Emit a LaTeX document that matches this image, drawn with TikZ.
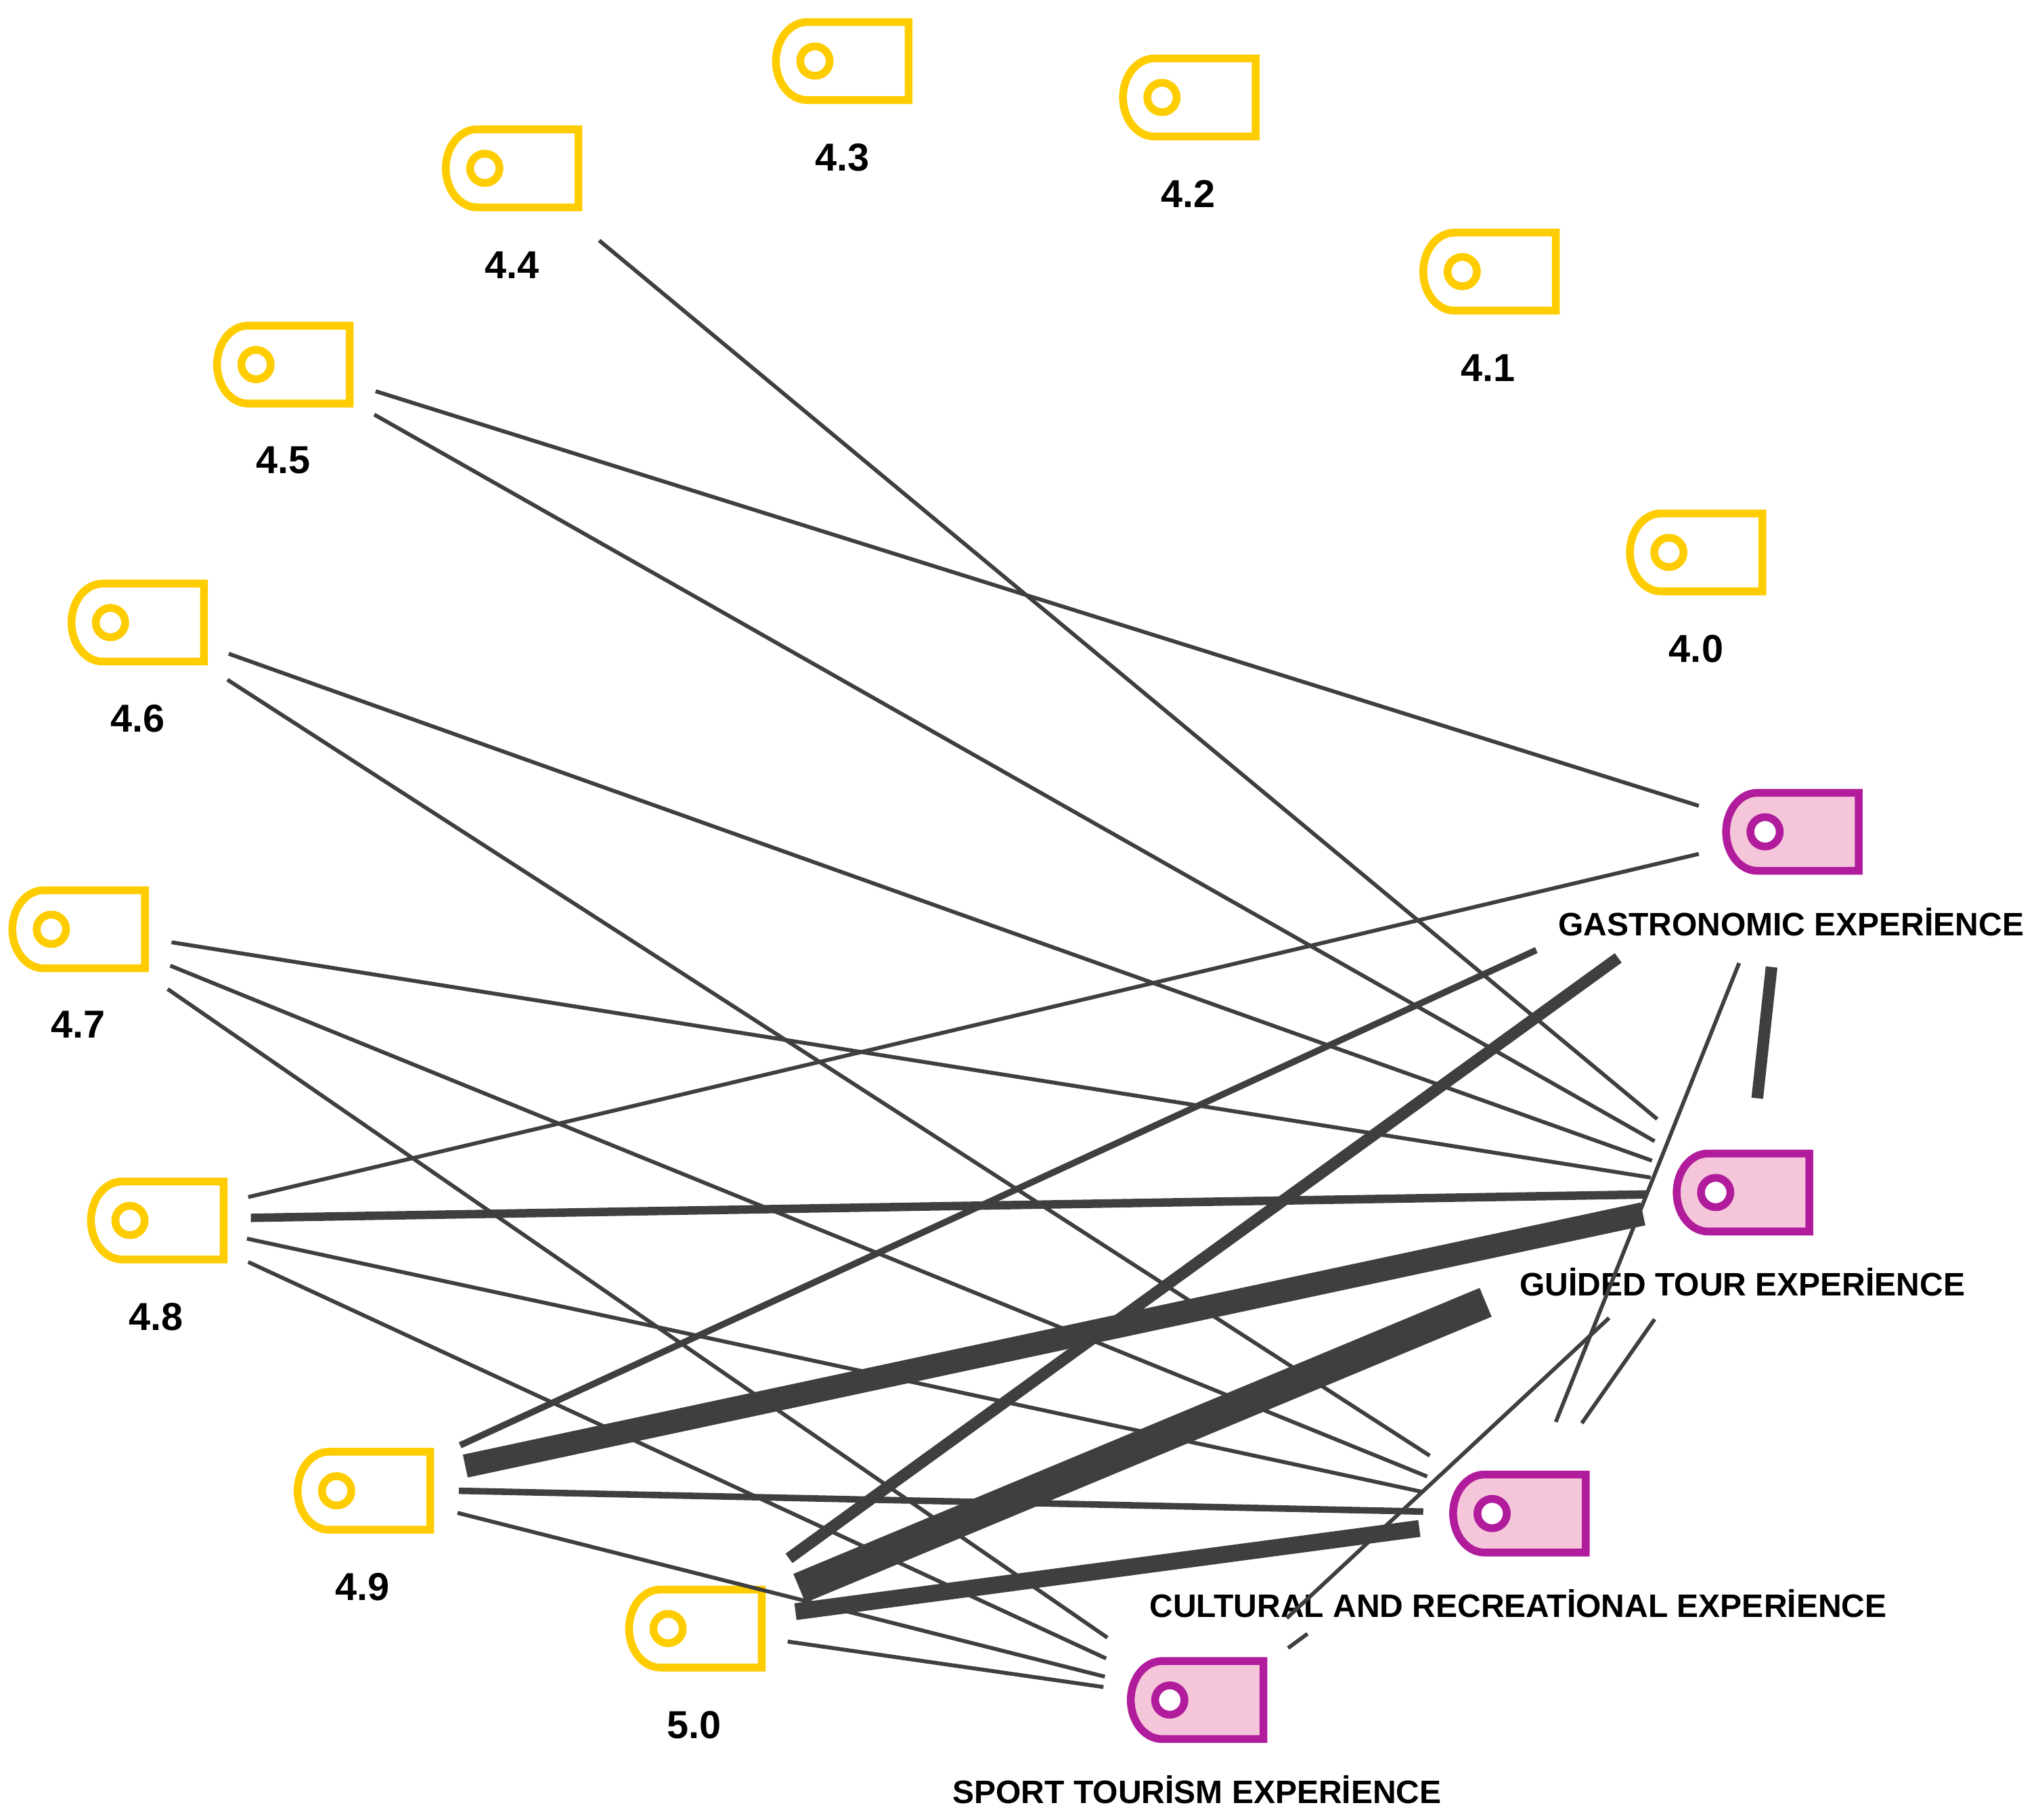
\documentclass[tikz,border=0pt]{standalone}
\usepackage{fontspec}
\setmainfont{Liberation Sans}
\definecolor{pinyellow}{HTML}{FFCC00}
\definecolor{pinmag}{HTML}{B01C9C}
\definecolor{pinfill}{HTML}{F5C6DA}
\definecolor{linkgrey}{HTML}{3F3F3F}
\tikzset{
  pinbox/.style={rectangle,minimum width=102pt,minimum height=60pt,inner sep=0pt,outer sep=0pt},
  pinline/.style={line width=6pt,line join=miter},
  yellowpin/.style={pinline,draw=pinyellow,fill=white},
  magentapin/.style={pinline,draw=pinmag,fill=pinfill},
  pindot/.style={circle,minimum size=22.6pt,inner sep=0pt,line width=6pt,fill=white},
  numlabel/.style={font=\fontsize{30}{30}\bfseries\selectfont,text=black,inner sep=0pt},
  explabel/.style={font=\fontsize{25}{25}\bfseries\selectfont,text=black,inner sep=0pt},
  link/.style={draw=linkgrey,line cap=butt},
  w3/.style={link,line width=3pt},
  w5/.style={link,line width=5pt},
  w6/.style={link,line width=6.5pt},
  w8/.style={link,line width=9pt},
  w12/.style={link,line width=13pt},
  w16/.style={link,line width=18pt},
  w21/.style={link,line width=24pt}
}
\newcommand{\pinnode}[5]{%
  \node[pinbox] (#1) at (#2,#3) {};
  \path[#4] (#1.north east) -- (#1.south east) -- ([xshift=24pt]#1.south west)
    arc[start angle=270,end angle=90,x radius=24pt,y radius=30pt] -- cycle;
  \node[pindot,draw=#5] (#1-dot) at ([xshift=-21pt]#1.center) {};
}
\begin{document}
\begin{tikzpicture}[x=1pt,y=-1pt]
\useasboundingbox (0,0) rectangle (1568,1400);
% value pins
\pinnode{n40}{1305}{425}{yellowpin}{pinyellow}
\pinnode{n41}{1146}{209}{yellowpin}{pinyellow}
\pinnode{n42}{915}{75}{yellowpin}{pinyellow}
\pinnode{n43}{648}{47}{yellowpin}{pinyellow}
\pinnode{n44}{394}{129.5}{yellowpin}{pinyellow}
\pinnode{n45}{218}{280.5}{yellowpin}{pinyellow}
\pinnode{n46}{106}{479}{yellowpin}{pinyellow}
\pinnode{n47}{60.5}{715}{yellowpin}{pinyellow}
\pinnode{n48}{121}{939}{yellowpin}{pinyellow}
\pinnode{n49}{280}{1147}{yellowpin}{pinyellow}
\pinnode{n50}{535}{1253}{yellowpin}{pinyellow}
% category pins
\pinnode{gas}{1379}{640}{magentapin}{pinmag}
\pinnode{gui}{1341}{917.5}{magentapin}{pinmag}
\pinnode{cul}{1169}{1164.5}{magentapin}{pinmag}
\pinnode{spo}{921}{1308}{magentapin}{pinmag}
% labels
\node[numlabel] (l40) at (1305,499) {4.0};
\node[numlabel] (l41) at (1145,283) {4.1};
\node[numlabel] (l42) at (914,149) {4.2};
\node[numlabel] (l43) at (648,121) {4.3};
\node[numlabel] (l44) at (394,204) {4.4};
\node[numlabel] (l45) at (218,354) {4.5};
\node[numlabel] (l46) at (106,553) {4.6};
\node[numlabel] (l47) at (60,788) {4.7};
\node[numlabel] (l48) at (120,1013) {4.8};
\node[numlabel] (l49) at (279,1221) {4.9};
\node[numlabel] (l50) at (534,1327) {5.0};
\node[explabel] (lgas) at (1378,709.5) {GASTRONOMIC EXPERİENCE};
\node[explabel] (lgui) at (1340.5,986.5) {GUİDED TOUR EXPERİENCE};
\node[explabel] (lcul) at (1168,1233.5) {CULTURAL AND RECREATİONAL EXPERİENCE};
\node[explabel] (lspo) at (921,1377) {SPORT TOURİSM EXPERİENCE};
% free ends of the links
\coordinate (a44) at (461,185);
\coordinate (a45g) at (289,301);
\coordinate (a45u) at (288,319);
\coordinate (a46u) at (176,503);
\coordinate (a46c) at (175,523);
\coordinate (a47u) at (132,725);
\coordinate (a47c) at (131,743);
\coordinate (a47s) at (129,761);
\coordinate (a48g) at (191,921);
\coordinate (a48u) at (193,937);
\coordinate (a48c) at (190,953);
\coordinate (a48s) at (191,971);
\coordinate (a49g) at (354,1112);
\coordinate (a49u) at (358,1128);
\coordinate (a49c) at (353,1147);
\coordinate (a49s) at (352,1164);
\coordinate (a50g) at (607,1199);
\coordinate (a50u) at (615,1222);
\coordinate (a50c) at (612,1240);
\coordinate (a50s) at (606,1263);
\coordinate (ggA) at (1307,620);
\coordinate (ggB) at (1307,657);
\coordinate (ggC) at (1182,731);
\coordinate (ggD) at (1245,737);
\coordinate (ggE) at (1338,741);
\coordinate (ggF) at (1363,744);
\coordinate (uuA) at (1275,861);
\coordinate (uuB) at (1273,878);
\coordinate (uuC) at (1271,893);
\coordinate (uuD) at (1270,906);
\coordinate (uuE) at (1267,919);
\coordinate (uuF) at (1264,934);
\coordinate (uuG) at (1352,845);
\coordinate (uuH) at (1143,1002);
\coordinate (uuI) at (1238,1014);
\coordinate (uuJ) at (1273,1015);
\coordinate (ccA) at (1100,1120);
\coordinate (ccB) at (1098,1136);
\coordinate (ccC) at (1095,1148);
\coordinate (ccD) at (1095,1163);
\coordinate (ccE) at (1092,1176);
\coordinate (ccF) at (1197,1094);
\coordinate (ccG) at (1217,1095);
\coordinate (ssA) at (852,1260);
\coordinate (ssB) at (851,1276);
\coordinate (ssC) at (850,1290);
\coordinate (ssD) at (849,1298);
\coordinate (ssE) at (990,1245);
\coordinate (ssF) at (1006,1257);
\coordinate (ssG) at (991,1268);
% links
\draw[w3] (a44) -- (uuA);
\draw[w3] (a45g) -- (ggA);
\draw[w3] (a45u) -- (uuB);
\draw[w3] (a46u) -- (uuC);
\draw[w3] (a46c) -- (ccA);
\draw[w3] (a47u) -- (uuD);
\draw[w3] (a47c) -- (ccB);
\draw[w3] (a47s) -- (ssA);
\draw[w3] (a48g) -- (ggB);
\draw[w6] (a48u) -- (uuE);
\draw[w3] (a48c) -- (ccC);
\draw[w3] (a48s) -- (ssB);
\draw[w5] (a49g) -- (ggC);
\draw[w16] (a49u) -- (uuF);
\draw[w5] (a49c) -- (ccD);
\draw[w3] (a49s) -- (ssC);
\draw[w8] (a50g) -- (ggD);
\draw[w21] (a50u) -- (uuH);
\draw[w12] (a50c) -- (ccE);
\draw[w3] (a50s) -- (ssD);
\draw[w3] (ggE) -- (ccF);
\draw[w8] (ggF) -- (uuG);
\draw[w3] (uuI) -- (ssE);
\draw[w3] (uuJ) -- (ccG);
\draw[w3] (ssF) -- (ssG);
\end{tikzpicture}
\end{document}
